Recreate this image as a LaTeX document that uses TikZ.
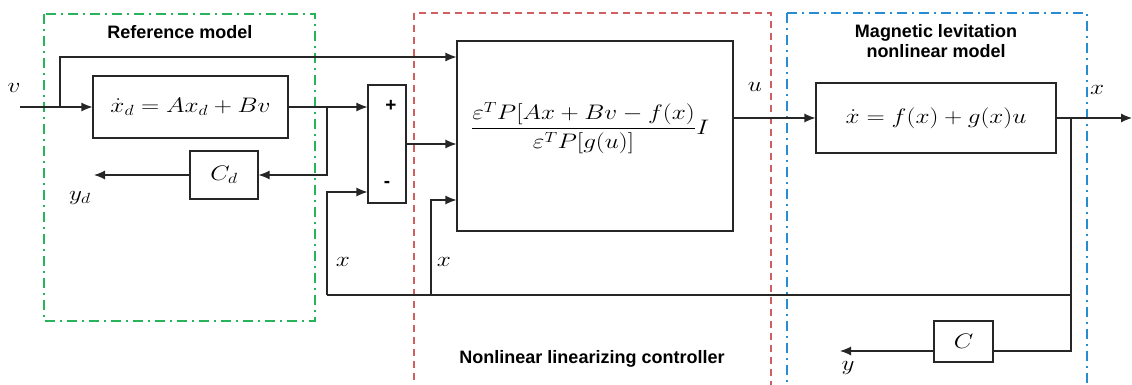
\RequirePackage{fix-cm}
\documentclass[tikz,border=0pt]{standalone}
\usepackage{amsmath}
\usepackage{fontspec}
\newfontfamily\headfont{Liberation Sans}
\usetikzlibrary{arrows.meta,calc}
\definecolor{refgreen}{RGB}{40,180,90}
\definecolor{ctrlred}{RGB}{210,95,95}
\definecolor{plantblue}{RGB}{40,140,210}
\newcommand{\wmath}[1]{\scalebox{1.2}[1]{$#1$}}
\tikzset{
  block/.style={draw=black!85, line width=1.1pt, inner sep=0pt},
  sig/.style={draw=black!85, line width=1.1pt},
  frame/.style={line width=2pt},
  dashdot/.style={dash pattern=on 10pt off 5pt on 2pt off 5pt},
  title/.style={font=\headfont\bfseries\fontsize{18}{20}\selectfont, align=center},
}
\begin{document}
\begin{tikzpicture}[x=1pt, y=-1pt, font=\fontsize{21}{25}\selectfont,
    >={Latex[length=11pt,width=9pt]}]
  \useasboundingbox (0,0) rectangle (1132,385);
  \clip (0,0) rectangle (1132,385);
  % frames
  \draw[refgreen, frame, dashdot] (44,14) rectangle (315,321);
  \draw[ctrlred, frame, dash pattern=on 7pt off 5pt] (414,13) rectangle (771,400);
  \draw[plantblue, frame, dashdot] (787,13) rectangle (1087,400);
  \node[title] (reftitle) at (180,32) {Reference model};
  \node[title] (ctrltitle) at (592,359) {Nonlinear linearizing controller};
  \node[title] (planttitle) at (936,41) {Magnetic levitation\\nonlinear model};
  % blocks
  \node[block, minimum width=195pt, minimum height=62pt] (ref) at (190.5,107) {\wmath{\dot{x}_d = Ax_d + Bv}};
  \node[block, minimum width=68pt, minimum height=48pt] (Cd) at (224,175) {\wmath{C_d}};
  \node[block, minimum width=38pt, minimum height=118pt] (sum) at (387,144) {};
  \node[font=\headfont\bfseries\fontsize{19}{20}\selectfont] (plus) at (391,106) {+};
  \node[font=\headfont\bfseries\fontsize{19}{20}\selectfont] (minus) at (387,184) {-};
  \node[block, minimum width=276pt, minimum height=190pt] (ctrl) at (595,136) {};
  \node (law) at (590,128) {\wmath{\dfrac{\varepsilon^T P[Ax+Bv-f(x)}{\varepsilon^T P[g(u)]}I}};
  \node[block, minimum width=240pt, minimum height=70pt] (plant) at (936,118) {\wmath{\dot{x} = f(x) + g(x)u}};
  \node[block, minimum width=59pt, minimum height=41pt] (C) at (963.5,341.5) {\wmath{C}};
  % branch points and free ends
  \coordinate (vin) at (20,107);
  \coordinate (vsplit) at (60,107);
  \coordinate (rsplit) at (327,107);
  \coordinate (xfb) at (327,295);
  \coordinate (xfb2) at (431,295);
  \coordinate (psplit) at (1071,118);
  \coordinate (pbot) at (1071,295);
  \coordinate (yd) at (94,175);
  \coordinate (yout) at (840,351);
  \coordinate (xout) at (1132,118);
  % signals
  \draw[sig,->] (vin) -- (ref.west);
  \draw[sig,->] (vsplit) |- (ctrl.west |- 0,57);
  \draw[sig,->] (ref.east) -- (sum.west |- ref.east);
  \draw[sig,->] (rsplit) |- (Cd.east);
  \draw[sig,->] (Cd.west) -- (yd);
  \draw[sig,->] (xfb) |- (sum.west |- 0,192);
  \draw[sig,->] (sum.east) -- (ctrl.west |- sum.east);
  \draw[sig,->] (xfb2) |- (ctrl.west |- 0,200);
  \draw[sig,->] (ctrl.east |- plant.west) -- (plant.west);
  \draw[sig,->] (plant.east) -- (xout);
  \draw[sig] (psplit) |- (C.east |- 0,351);
  \draw[sig] (pbot) -- (xfb);
  \draw[sig,->] (C.west |- 0,351) -- (yout);
  % signal names
  \node (vlab) at (14,88) {\wmath{v}};
  \node (ydlab) at (80,198) {\wmath{y_d}};
  \node (xlab1) at (343,262) {\wmath{x}};
  \node (xlab2) at (444,262) {\wmath{x}};
  \node (ulab) at (755,87) {\wmath{u}};
  \node (xlab3) at (1097,90) {\wmath{x}};
  \node (ylab) at (848,368) {\wmath{y}};
\end{tikzpicture}
\end{document}
